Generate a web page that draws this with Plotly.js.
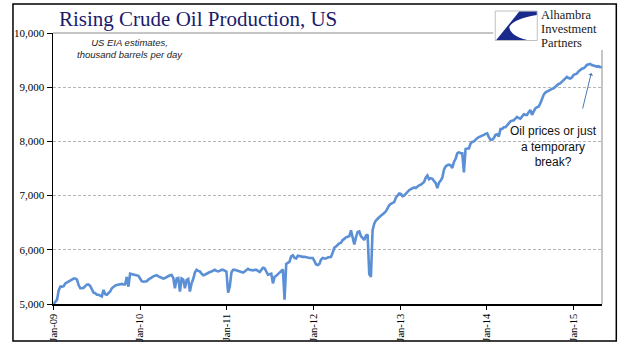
<!DOCTYPE html>
<html>
<head>
<meta charset="utf-8">
<script src="https://cdn.plot.ly/plotly-3.0.1.min.js"></script>
<style>html,body{margin:0;padding:0;background:#fff;}#chart{width:641px;height:361px;}</style>
</head>
<body>
<div id="chart"></div>
<script>
// Weekly US crude oil production (thousand barrels per day), week ending Fridays from 2009-01-02
const startDate = "2009-01-02";
const prod2009 = [5000,5050,5080,5250,5320,5320,5330,5380,5400,5420,5430,5460,5470,5470,5450,5350,5290,5290,5300,5330,5360,5360,5330,5270,5210,5200,5170,5170,5150,5140,5260,5180,5170,5200,5230,5290,5320,5340,5350,5360,5370,5370,5360,5360,5500,5320,5560,5550,5540,5540,5530,5520];
const prod2010 = [5470,5420,5410,5410,5420,5450,5470,5500,5510,5520,5530,5510,5500,5480,5470,5480,5500,5510,5530,5535,5480,5290,5470,5480,5230,5470,5450,5290,5440,5460,5230,5380,5460,5580,5630,5610,5600,5560,5530,5540,5560,5570,5590,5600,5620,5630,5610,5600,5610,5630,5630,5620];
const prod2011 = [5600,5210,5320,5580,5630,5630,5620,5620,5610,5600,5580,5600,5630,5650,5630,5620,5620,5630,5630,5610,5590,5630,5670,5660,5600,5540,5550,5560,5380,5500,5520,5550,5570,5600,5640,5080,5740,5760,5780,5880,5900,5850,5840,5890,5880,5870,5870,5870,5860,5860,5850,5850];
const prod2012 = [5850,5790,5730,5720,5740,5820,5850,5840,5840,5860,5860,5870,5950,6040,6060,6090,6120,6130,6180,6200,6230,6240,6250,6360,6200,6100,6230,6330,6340,6250,6220,6180,6260,6280,5550,5500,6360,6480,6540,6580,6600,6630,6650,6680,6710,6780,6820,6850,6860,6880,6960,7010];
const prod2013 = [7040,7030,6990,7000,7040,7060,7100,7120,7140,7150,7140,7170,7190,7200,7220,7250,7330,7370,7300,7320,7310,7270,7230,7140,7240,7280,7330,7480,7540,7560,7570,7560,7510,7620,7680,7780,7800,7780,7780,7430,7860,7870,7870,7960,7990,8000,8040,8060,8080,8090,8110,8120];
const prod2014 = [8140,8150,8080,8030,8030,8060,8120,8130,8090,8230,8230,8260,8260,8300,8320,8370,8380,8390,8420,8450,8430,8420,8460,8500,8490,8490,8540,8580,8490,8560,8610,8630,8640,8700,8800,8860,8900,8920,8940,8950,8970,8980,9010,9040,9060,9070,9100,9130,9160,9190,9170,9160];
const prod2015 = [9180,9225,9240,9250,9290,9320,9340,9350,9370,9410,9420,9430,9410,9400,9390,9380,9390,9370,9374];

const tickDates = ["2009-01-01","2010-01-01","2011-01-01","2012-01-01","2013-01-01","2014-01-01","2015-01-01"];
const tickLabels = ["Jan-09","Jan-10","Jan-11","Jan-12","Jan-13","Jan-14","Jan-15"];
const yTicks = [5000,6000,7000,8000,9000,10000];
const yLabels = ["5,000","6,000","7,000","8,000","9,000","10,000"];

const titleText = "Rising Crude Oil Production, US";
const subtitleLines = ["US EIA estimates,", "thousand barrels per day"];
const noteText = "Oil prices or just<br>a temporary<br>break?";
const logoLines = ["Alhambra","Investment","Partners"];

const values = [].concat(prod2009, prod2010, prod2011, prod2012, prod2013, prod2014, prod2015);
const dates = [];
const d0 = new Date(startDate + "T00:00:00Z");
for (let i = 0; i < values.length; i++) {
  const d = new Date(d0.getTime() + i * 7 * 86400000);
  dates.push(d.toISOString().slice(0, 10));
}

// layout helpers: pixel -> paper
const L = 53, R = 601.7, T = 33, B = 304;
const px = x => (x - L) / (R - L);
const py = y => (B - y) / (B - T);

const serif = "Liberation Serif, Times New Roman, serif";
const sans = "Liberation Sans, Arial, sans-serif";

const trace = {
  x: dates, y: values, type: "scatter", mode: "lines",
  line: {color: "#5b8fd6", width: 2.6},
  hoverinfo: "skip"
};

const shapes = [
  {type: "rect", xref: "paper", yref: "paper", x0: px(13), x1: px(616), y0: py(341), y1: py(4), line: {color: "#000", width: 1.5}, fillcolor: "rgba(0,0,0,0)", layer: "below"},
  {type: "line", xref: "paper", yref: "paper", x0: 0, x1: px(493), y0: 1, y1: 1, line: {color: "#8c8c8c", width: 1}},
  {type: "line", xref: "paper", yref: "paper", x0: 1, x1: 1, y0: 0, y1: py(50), line: {color: "#8c8c8c", width: 1}},
  {type: "rect", xref: "paper", yref: "paper", x0: px(495), x1: px(537), y0: py(40.5), y1: py(11), line: {color: "#b0b0b0", width: 0.8}, fillcolor: "#fff"},
  {type: "path", xref: "paper", yref: "paper",
   path: "M " + px(519) + "," + py(11.5) + " L " + px(536.5) + "," + py(11.5) + " L " + px(536.5) + "," + py(15) +
         " Q " + px(513) + "," + py(19) + " " + px(509) + "," + py(27) +
         " Q " + px(510) + "," + py(36) + " " + px(527) + "," + py(40) +
         " L " + px(496) + "," + py(40) + " Z",
   line: {width: 0}, fillcolor: "#1a2a8c"}
];

const logoText = logoLines.map(s => '<span style="font-size:12.5px">' + s + '</span>').join("<br>");
const subText = subtitleLines.map(s => "<i>" + s + "</i>").join("<br>");

const annotations = [
  {xref: "paper", yref: "paper", x: px(57), y: py(19), xanchor: "left", yanchor: "middle", showarrow: false,
   text: titleText, font: {family: serif, size: 21, color: "#1b1b6b"}},
  {xref: "paper", yref: "paper", x: px(130), y: py(48), xanchor: "center", yanchor: "middle", showarrow: false,
   text: subText, font: {family: sans, size: 9.5, color: "#222"}},
  {xref: "paper", yref: "paper", x: px(553), y: py(146), xanchor: "center", yanchor: "middle", showarrow: false,
   text: noteText, font: {family: sans, size: 12, color: "#111"}},
  {xref: "paper", yref: "paper", x: px(591), y: py(73), ax: -9, ay: 37, showarrow: true,
   arrowhead: 1, arrowsize: 0.8, arrowwidth: 1, arrowcolor: "#4a78b0", text: ""},
  {xref: "paper", yref: "paper", x: px(539), y: py(29), xanchor: "left", yanchor: "middle", align: "left", showarrow: false,
   text: logoText, font: {family: serif, size: 10.8, color: "#1a1a1a"}}
];

const layout = {
  width: 641, height: 361,
  margin: {l: L, r: 641 - R, t: T, b: 361 - B, pad: 0},
  paper_bgcolor: "#fff", plot_bgcolor: "#fff",
  showlegend: false,
  xaxis: {
    type: "date", range: ["2008-12-30", "2015-05-02"],
    tickvals: tickDates, ticktext: tickLabels, tickangle: -90,
    ticks: "outside", ticklen: 4, tickcolor: "#000", tickwidth: 1,
    showline: true, linecolor: "#000", linewidth: 1.5,
    showgrid: false, zeroline: false,
    tickfont: {family: serif, size: 10.5, color: "#000"}
  },
  yaxis: {
    range: [5000, 10000], tickvals: yTicks, ticktext: yLabels,
    ticks: "outside", ticklen: 5, tickcolor: "#000", tickwidth: 1,
    showline: true, linecolor: "#000", linewidth: 1.5,
    showgrid: true, gridcolor: "#b5b5b5", gridwidth: 1, griddash: "3px,2px",
    zeroline: false,
    tickfont: {family: serif, size: 11, color: "#000"}
  },
  shapes: shapes,
  annotations: annotations
};

Plotly.newPlot("chart", [trace], layout, {staticPlot: true, displayModeBar: false});
</script>
</body>
</html>
